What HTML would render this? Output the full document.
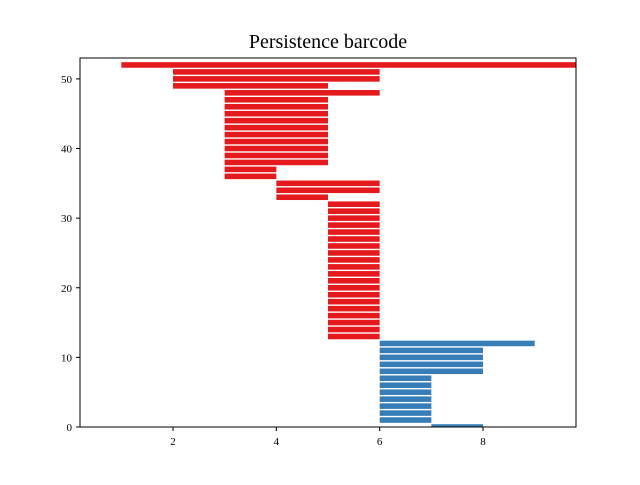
<!DOCTYPE html>
<html><head><meta charset="utf-8"><style>
body{margin:0;background:#fff}
svg text{font-family:"Liberation Serif","DejaVu Serif",serif}
</style></head><body>
<svg id="chart" width="640" height="480">
<rect width="640" height="480" fill="#fff"/>
<text x="328" y="48" text-anchor="middle" font-size="20">Persistence barcode</text>
<g id="bars"></g>
<g id="axes"></g>
</svg>
<script>
const births=[7,6,6,6,6,6,6,6,6,6,6,6,6,5,5,5,5,5,5,5,5,5,5,5,5,5,5,5,5,5,5,5,5,4,4,4,3,3,3,3,3,3,3,3,3,3,3,3,3,2,2,2,1];
const deaths=[8,7,7,7,7,7,7,7,8,8,8,8,9,6,6,6,6,6,6,6,6,6,6,6,6,6,6,6,6,6,6,6,6,5,6,6,4,4,5,5,5,5,5,5,5,5,5,5,6,5,6,6,11];
const dims=[0,0,0,0,0,0,0,0,0,0,0,0,0,1,1,1,1,1,1,1,1,1,1,1,1,1,1,1,1,1,1,1,1,1,1,1,1,1,1,1,1,1,1,1,1,1,1,1,1,1,1,1,1];
const xTicks=[2,4,6,8];
const yTicks=[0,10,20,30,40,50];
const X0=80,X1=576,Y0=427,Y1=58,xmin=0.2,xmax=9.8,ymin=0,ymax=53;
const sx=v=>X0+(v-xmin)/(xmax-xmin)*(X1-X0);
const sy=v=>Y0-(v-ymin)/(ymax-ymin)*(Y0-Y1);
const NS='http://www.w3.org/2000/svg';
const bars=document.getElementById('bars'),axes=document.getElementById('axes');
const colors=['#377eb8','#e41a1c'];
births.forEach((b,i)=>{
  const x0=Math.max(X0,sx(b)),x1=Math.min(X1,sx(deaths[i]));
  const top=Math.max(Y1,sy(i+0.4)),bot=Math.min(Y0,sy(i-0.4));
  const r=document.createElementNS(NS,'rect');
  r.setAttribute('x',x0);r.setAttribute('y',top);
  r.setAttribute('width',x1-x0);r.setAttribute('height',bot-top);
  r.setAttribute('fill',colors[dims[i]]);
  
  
  bars.appendChild(r);
});
const frame=document.createElementNS(NS,'rect');
frame.setAttribute('x',X0);frame.setAttribute('y',Y1);frame.setAttribute('width',X1-X0);frame.setAttribute('height',Y0-Y1);
frame.setAttribute('fill','none');frame.setAttribute('stroke','#000');frame.setAttribute('stroke-width','1');


axes.appendChild(frame);
xTicks.forEach(t=>{
  const x=sx(t);
  const l=document.createElementNS(NS,'line');
  l.setAttribute('x1',x);l.setAttribute('x2',x);l.setAttribute('y1',Y0);l.setAttribute('y2',Y0+4);l.setAttribute('stroke','#000');
  
  
  axes.appendChild(l);
  const tx=document.createElementNS(NS,'text');
  tx.setAttribute('x',x);tx.setAttribute('y',Y0+18);tx.setAttribute('text-anchor','middle');tx.setAttribute('font-size','11');
  tx.textContent=t;
  
  
  axes.appendChild(tx);
});
yTicks.forEach(t=>{
  const y=sy(t);
  const l=document.createElementNS(NS,'line');
  l.setAttribute('x1',X0-4);l.setAttribute('x2',X0);l.setAttribute('y1',y);l.setAttribute('y2',y);l.setAttribute('stroke','#000');
  
  
  axes.appendChild(l);
  const tx=document.createElementNS(NS,'text');
  tx.setAttribute('x',X0-8);tx.setAttribute('y',y+4);tx.setAttribute('text-anchor','end');tx.setAttribute('font-size','11');
  tx.textContent=t;
  
  
  axes.appendChild(tx);
});
</script>
</body></html>
